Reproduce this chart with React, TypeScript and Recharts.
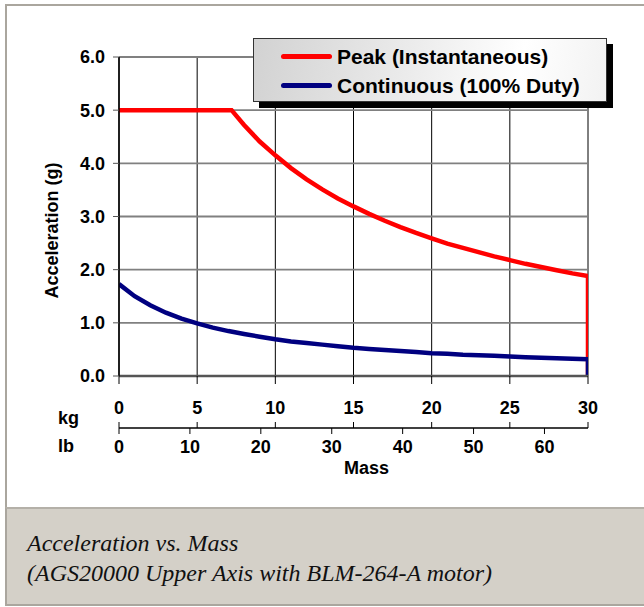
import { LineChart, Line, XAxis, YAxis, CartesianGrid, Legend } from 'recharts'

// mass in kg, acceleration in g
const peakKg = [0, 7.2, 8, 9, 10, 11, 12, 13, 14, 15, 16, 17, 18, 19, 20, 21, 22, 23, 24, 25, 26, 27, 28, 29, 30, 30]
const peakG = [5, 5, 4.72, 4.41, 4.15, 3.91, 3.7, 3.51, 3.34, 3.19, 3.05, 2.92, 2.8, 2.69, 2.59, 2.49, 2.41, 2.33, 2.25, 2.18, 2.11, 2.05, 1.99, 1.93, 1.88, 0]

const contKg = [0, 1, 2, 3, 4, 5, 6, 7, 8, 9, 10, 11, 12, 13, 14, 15, 16, 17, 18, 19, 20, 21, 22, 23, 24, 25, 26, 27, 28, 29, 30, 30]
const contG = [1.73, 1.5, 1.33, 1.19, 1.08, 0.99, 0.91, 0.845, 0.79, 0.74, 0.69, 0.65, 0.62, 0.59, 0.56, 0.53, 0.51, 0.49, 0.47, 0.45, 0.43, 0.42, 0.4, 0.39, 0.38, 0.365, 0.354, 0.343, 0.334, 0.324, 0.315, 0]

const seriesNames = ['Peak (Instantaneous)', 'Continuous (100% Duty)']
const kgTicks = [0, 5, 10, 15, 20, 25, 30]
const lbTicks = [0, 10, 20, 30, 40, 50, 60]
const yTicks = [0, 1, 2, 3, 4, 5, 6]
const LB_PER_KG = 2.20462

const peakData = peakKg.map((kg, i) => ({ kg, g: peakG[i] }))
const contData = contKg.map((kg, i) => ({ kg, g: contG[i] }))

const FONT = '"Liberation Sans", Arial, sans-serif'
const tickStyle = { fontFamily: FONT, fontSize: 18, fontWeight: 700, fill: '#000' }

const KgTick = ({ x, y, payload }: any) => (
  <g>
    <text x={x} y={y + 28} textAnchor="middle" {...tickStyle}>
      {payload.value}
    </text>
    <line x1={x} x2={x} y1={y + 36} y2={y + 42} stroke="#000" strokeWidth={1} />
  </g>
)

const LegendBox = ({ payload }: any) => {
  const items = [...(payload || [])].sort(
    (a: any, b: any) => seriesNames.indexOf(a.value) - seriesNames.indexOf(b.value)
  )
  return (
    <div
      style={{
        width: 352,
        height: 59,
        border: '1px solid #333',
        background: 'linear-gradient(100deg, #d2d2d2 0%, #ececec 45%, #ffffff 75%, #f2f2f2 100%)',
        boxShadow: '6px 6px 0 #000',
        fontFamily: FONT,
        fontSize: 21,
        fontWeight: 700,
        color: '#000',
        paddingTop: 3,
        boxSizing: 'content-box',
      }}
    >
      {items.map((p: any) => (
        <div key={p.value} style={{ display: 'flex', alignItems: 'center', height: 29 }}>
          <span style={{ display: 'inline-block', width: 51, height: 5, borderRadius: 3, background: p.color, marginLeft: 27, marginRight: 5 }} />
          <span>{p.value}</span>
        </div>
      ))}
    </div>
  )
}

export default function App() {
  return (
    <div style={{ position: 'absolute', left: 0, top: 0, width: 644, height: 607, background: '#fff', overflow: 'hidden' }}>
      <div style={{ position: 'absolute', left: 5, top: 4, width: 650, height: 504, borderLeft: '2px solid #aaa69e', borderTop: '2px solid #aaa69e', boxSizing: 'border-box' }} />
      <div style={{ position: 'absolute', left: 0, top: 0 }}>
        <LineChart width={644} height={507} margin={{ top: 57, right: 56, bottom: 27, left: 0 }}>
          <CartesianGrid horizontal={false} stroke="#000" strokeWidth={1} xAxisId="kg" />
          <CartesianGrid vertical={false} stroke="#808080" strokeWidth={1.8} xAxisId="kg" />
          <XAxis
            xAxisId="kg"
            type="number"
            dataKey="kg"
            domain={[0, 30]}
            ticks={kgTicks}
            allowDataOverflow
            height={52}
            tickSize={8}
            tickMargin={2}
            tick={<KgTick />}
            tickLine={{ stroke: '#000' }}
            axisLine={{ stroke: '#555', strokeWidth: 2.5 }}
            label={({ viewBox }: any) => (
              <text x={viewBox.x - 61} y={viewBox.y + 48} {...tickStyle}>kg</text>
            )}
          />
          {/* same mass scale, labelled in pounds */}
          <XAxis
            xAxisId="lb"
            type="number"
            dataKey="kg"
            domain={[0, 30]}
            ticks={lbTicks.map((lb) => lb / LB_PER_KG)}
            tickFormatter={(v: number) => String(Math.round(v * LB_PER_KG))}
            allowDataOverflow
            height={52}
            tickSize={6}
            tickMargin={6}
            tick={tickStyle}
            tickLine={{ stroke: '#000' }}
            axisLine={{ stroke: '#000', strokeWidth: 1.5 }}
            label={({ viewBox }: any) => (
              <g>
                <text x={viewBox.x - 61} y={viewBox.y + 24} {...tickStyle}>lb</text>
                <text x={viewBox.x + viewBox.width / 2 + 13} y={viewBox.y + 46} textAnchor="middle" {...tickStyle}>Mass</text>
              </g>
            )}
          />
          <YAxis
            type="number"
            domain={[0, 6]}
            ticks={yTicks}
            width={119}
            tickSize={6}
            tickMargin={8}
            tick={tickStyle}
            tickFormatter={(v: number) => v.toFixed(1)}
            tickLine={{ stroke: '#555' }}
            axisLine={{ stroke: '#000', strokeWidth: 1.5 }}
            label={({ viewBox }: any) => {
              const cy = viewBox.y + viewBox.height / 2 + 14
              return (
                <text
                  x={52}
                  y={cy}
                  transform={`rotate(-90, 52, ${cy})`}
                  textAnchor="middle"
                  dominantBaseline="central"
                  {...tickStyle}
                >
                  Acceleration (g)
                </text>
              )
            }}
          />
          <YAxis yAxisId="edge" orientation="right" width={0} tick={false} tickLine={false} axisLine={{ stroke: '#8a8a8a', strokeWidth: 3 }} />
          <Legend
            verticalAlign="middle"
            align="center"
            content={<LegendBox />}
            wrapperStyle={{ position: 'absolute', left: 253, top: 38, width: 'auto', height: 'auto' }}
          />
          <Line
            xAxisId="kg"
            data={peakData}
            dataKey="g"
            name={seriesNames[0]}
            type="linear"
            stroke="#ff0000"
            strokeWidth={4.5}
            dot={false}
            isAnimationActive={false}
          />
          <Line
            xAxisId="lb"
            data={contData}
            dataKey="g"
            name={seriesNames[1]}
            type="linear"
            stroke="#000080"
            strokeWidth={4.5}
            dot={false}
            isAnimationActive={false}
          />
        </LineChart>
      </div>
      <div
        style={{
          position: 'absolute',
          left: 5,
          top: 507,
          width: 650,
          height: 99,
          background: '#d4d0c8',
          borderTop: '2px solid #b4b0a8',
          borderLeft: '2px solid #aaa69e',
          borderBottom: '2px solid #aaa69e',
          boxSizing: 'border-box',
          fontFamily: '"Liberation Serif", "Times New Roman", serif',
          fontStyle: 'italic',
          fontSize: 24,
          lineHeight: '30px',
          color: '#111',
          paddingLeft: 20,
          paddingTop: 19,
        }}
      >
        <div>Acceleration vs. Mass</div>
        <div>(AGS20000 Upper Axis with BLM-264-A motor)</div>
      </div>
    </div>
  )
}
